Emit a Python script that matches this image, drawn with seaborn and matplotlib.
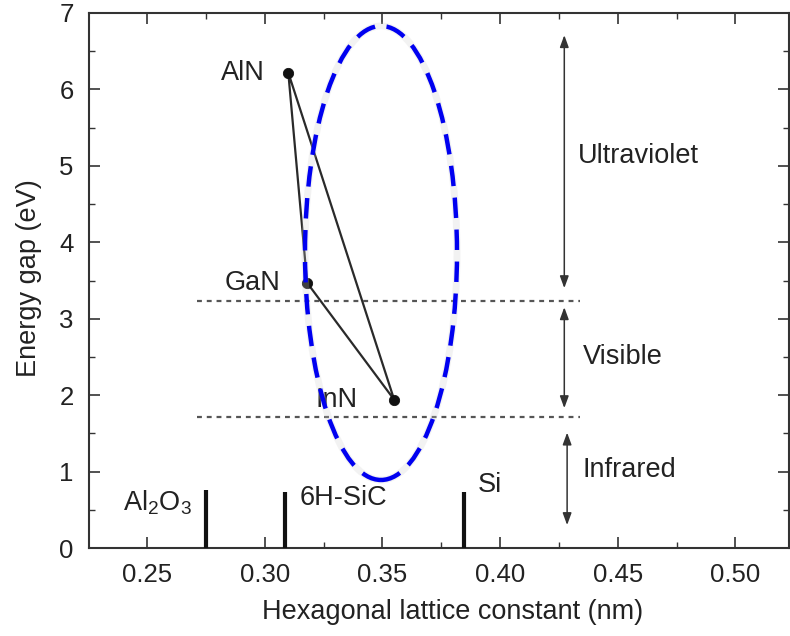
import numpy as np
import pandas as pd
import matplotlib
matplotlib.use("Agg")
import matplotlib.pyplot as plt
import seaborn as sns
from matplotlib.patches import Ellipse
from matplotlib.ticker import MultipleLocator, FixedLocator

# ---------------- data ----------------
compounds = ["AlN", "GaN", "InN"]
lattice_nm = [0.310, 0.318, 0.355]
gap_ev = [6.22, 3.47, 1.94]

substrates = ["Al$_2$O$_3$", "6H-SiC", "Si"]
substrate_lattice = [0.275, 0.3085, 0.3845]
substrate_height = [0.76, 0.73, 0.73]

boundary_levels = [3.23, 1.72]
boundary_span = [0.271, 0.434]

regions = ["Ultraviolet", "Visible", "Infrared"]
region_top = [6.71, 3.15, 1.51]
region_bottom = [3.40, 1.83, 0.30]
region_arrow_x = [0.4273, 0.4273, 0.4285]
region_label_x = [0.433, 0.435, 0.435]
region_label_y = [5.13, 2.50, 1.02]

ellipse_center = (0.3494, 3.86)
ellipse_size = (0.0646, 5.94)

x_ticks = [0.25, 0.30, 0.35, 0.40, 0.45, 0.50]
y_ticks = [0, 1, 2, 3, 4, 5, 6, 7]

# ---------------- style ----------------
sns.set_theme(style="ticks")
plt.rcParams["font.family"] = ["Liberation Sans", "DejaVu Sans"]
plt.rcParams["mathtext.fontset"] = "custom"
plt.rcParams["mathtext.rm"] = "Liberation Sans"
plt.rcParams["mathtext.it"] = "Liberation Sans"

fig = plt.figure(figsize=(7.9, 6.36), dpi=100)
ax = fig.add_axes([89 / 790, 88 / 636, 700 / 790, 535 / 636])

ink = "#222222"
txt_size = 19.5

# triangle connecting the nitrides
tri = pd.DataFrame({
    "a": lattice_nm + [lattice_nm[0]],
    "Eg": gap_ev + [gap_ev[0]],
})
sns.lineplot(data=tri, x="a", y="Eg", sort=False, estimator=None,
             color="#2a2a2a", lw=1.6, ax=ax, zorder=3)
pts = pd.DataFrame({"a": lattice_nm, "Eg": gap_ev, "name": compounds})
sns.scatterplot(data=pts, x="a", y="Eg", color="#111111", s=55,
                edgecolor="#111111", ax=ax, zorder=4, legend=False)

label_offsets = {"AlN": (-17, 0), "GaN": (-19, 0), "InN": (-26, 0)}
for name, x, y in zip(compounds, lattice_nm, gap_ev):
    ax.annotate(name, (x, y), xytext=label_offsets[name],
                textcoords="offset points", ha="right", va="center",
                fontsize=txt_size, color=ink, zorder=2)

# boundaries between spectral regions
ax.hlines(boundary_levels, boundary_span[0], boundary_span[1],
          colors="#555555", lw=1.6, linestyles=(0, (2.2, 2.2)), zorder=2)

# region arrows
for name, xa, yt, yb, lx, ly in zip(regions, region_arrow_x, region_top,
                                    region_bottom, region_label_x, region_label_y):
    ax.annotate("", xy=(xa, yt), xytext=(xa, yb),
                arrowprops=dict(arrowstyle="<|-|>,head_length=0.6,head_width=0.22",
                                color="#333333", lw=1.1, shrinkA=0, shrinkB=0))
    ax.text(lx, ly, name, ha="left", va="center", fontsize=txt_size, color=ink)

# substrates
ax.vlines(substrate_lattice, 0, substrate_height, colors="#111111", lw=3.0, zorder=3)
sub_offsets = [(-10, -9, "right"), (11, -4, "left"), (10, 5, "left")]
for name, x, h, (dx, dy, ha) in zip(substrates, substrate_lattice,
                                     substrate_height, sub_offsets):
    ax.annotate(name, (x, h), xytext=(dx, dy), textcoords="offset points",
                ha=ha, va="center", fontsize=txt_size, color=ink)

# highlighted ellipse
shadow = Ellipse(ellipse_center, ellipse_size[0], ellipse_size[1], fill=False,
                 edgecolor="#cfcfcf", lw=5.0, alpha=0.25, zorder=5)
ax.add_patch(shadow)
ell = Ellipse(ellipse_center, ellipse_size[0], ellipse_size[1], fill=False,
              edgecolor="#0000f0", lw=3.2, linestyle=(0, (4.6, 2.6)), zorder=6)
ax.add_patch(ell)

# axes
ax.set_xlim(0.2253, 0.5228)
ax.set_ylim(0, 7)
ax.xaxis.set_major_locator(FixedLocator(x_ticks))
ax.xaxis.set_minor_locator(MultipleLocator(0.025))
ax.yaxis.set_major_locator(FixedLocator(y_ticks))
ax.yaxis.set_minor_locator(MultipleLocator(0.5))
ax.set_xticklabels([f"{t:.2f}" for t in x_ticks])
ax.set_yticklabels([str(t) for t in y_ticks])
ax.tick_params(which="both", direction="in", top=True, right=True,
               colors="#333333", labelcolor=ink)
ax.tick_params(which="major", length=8, width=1.2, labelsize=18.5, pad=11)
ax.tick_params(which="minor", length=4, width=1.0)
for sp in ax.spines.values():
    sp.set_color("#333333")
    sp.set_linewidth(1.5)

ax.set_xlabel("Hexagonal lattice constant (nm)", fontsize=txt_size, color=ink)
ax.set_ylabel("Energy gap (eV)", fontsize=txt_size, color=ink)
ax.xaxis.set_label_coords(0.519, -0.096)
ax.yaxis.set_label_coords(-0.067, 0.505)

fig.savefig("out.png", dpi=100)
